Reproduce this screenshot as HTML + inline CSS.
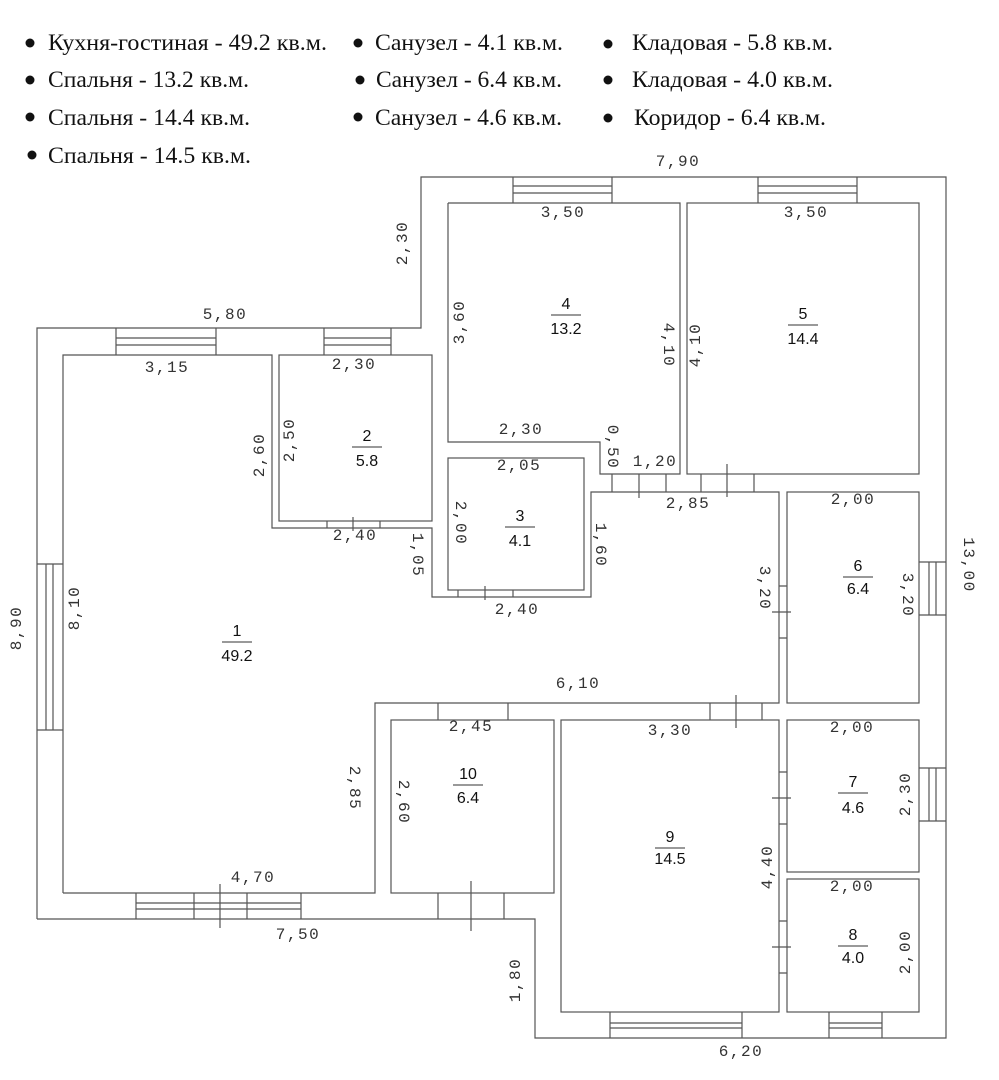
<!DOCTYPE html>
<html><head><meta charset="utf-8"><style>
html,body{margin:0;padding:0;background:#fff;}
svg{display:block}
.w{stroke:#555;stroke-width:1.2;fill:none}
.d{font-family:"Liberation Mono",monospace;font-size:16px;letter-spacing:1.5px;fill:#333;text-anchor:middle;dominant-baseline:central}
.r{font-family:"Liberation Sans",sans-serif;font-size:16px;fill:#111;text-anchor:middle}
.l{font-family:"Liberation Serif","Noto Serif CJK SC",serif;font-size:23px;fill:#111}
</style></head><body>
<svg width="999" height="1080" viewBox="0 0 999 1080" xmlns="http://www.w3.org/2000/svg">
<g fill="#111">
<circle cx="30" cy="43" r="4.5"/><circle cx="30" cy="80" r="4.5"/><circle cx="30" cy="117" r="4.5"/><circle cx="32" cy="155" r="4.5"/>
<circle cx="358" cy="43" r="4.5"/><circle cx="360" cy="80" r="4.5"/><circle cx="358" cy="117" r="4.5"/>
<circle cx="608" cy="44" r="4.5"/><circle cx="608" cy="80" r="4.5"/><circle cx="608" cy="118" r="4.5"/>
</g>
<text class="l" x="48" y="50" textLength="279" lengthAdjust="spacingAndGlyphs">Кухня-гостиная - 49.2 кв.м.</text>
<text class="l" x="48" y="87" textLength="201" lengthAdjust="spacingAndGlyphs">Спальня - 13.2 кв.м.</text>
<text class="l" x="48" y="125" textLength="202" lengthAdjust="spacingAndGlyphs">Спальня - 14.4 кв.м.</text>
<text class="l" x="48" y="163" textLength="203" lengthAdjust="spacingAndGlyphs">Спальня - 14.5 кв.м.</text>
<text class="l" x="375" y="50" textLength="188" lengthAdjust="spacingAndGlyphs">Санузел - 4.1 кв.м.</text>
<text class="l" x="376" y="87" textLength="186" lengthAdjust="spacingAndGlyphs">Санузел - 6.4 кв.м.</text>
<text class="l" x="375" y="125" textLength="187" lengthAdjust="spacingAndGlyphs">Санузел - 4.6 кв.м.</text>
<text class="l" x="632" y="50" textLength="201" lengthAdjust="spacingAndGlyphs">Кладовая - 5.8 кв.м.</text>
<text class="l" x="632" y="87" textLength="201" lengthAdjust="spacingAndGlyphs">Кладовая - 4.0 кв.м.</text>
<text class="l" x="634" y="125" textLength="192" lengthAdjust="spacingAndGlyphs">Коридор - 6.4 кв.м.</text>

<g class="w">
<polyline points="37,919 37,328 421,328 421,177 946,177 946,1038 535,1038 535,919 37,919"/>
<polyline points="63,893 63,355 272,355 272,528 432,528 432,597 591,597 591,492 779,492 779,703 375,703 375,893 63,893"/>
<rect x="279" y="355" width="153" height="166"/>
<rect x="448" y="458" width="136" height="132"/>
<polyline points="448,203 680,203 680,474 600,474 600,442 448,442 448,203"/>
<rect x="687" y="203" width="232" height="271"/>
<rect x="787" y="492" width="132" height="211"/>
<rect x="787" y="720" width="132" height="152"/>
<rect x="787" y="879" width="132" height="133"/>
<rect x="561" y="720" width="218" height="292"/>
<rect x="391" y="720" width="163" height="173"/>
<path d="M116,328V355M216,328V355M116,338H216M116,345H216"/>
<path d="M324,328V355M391,328V355M324,338H391M324,345H391"/>
<path d="M513,177V203M612,177V203M513,186H612M513,193H612"/>
<path d="M758,177V203M857,177V203M758,186H857M758,193H857"/>
<path d="M37,564H63M37,730H63M46,564V730M53,564V730"/>
<path d="M919,562H946M919,615H946M929,562V615M936,562V615"/>
<path d="M919,768H946M919,821H946M929,768V821M936,768V821"/>
<path d="M136,893V919M301,893V919M194,893V919M247,893V919M136,903H301M136,909H301M220,884V928"/>
<path d="M610,1012V1038M742,1012V1038M610,1023H742M610,1028H742"/>
<path d="M829,1012V1038M882,1012V1038M829,1023H882M829,1028H882"/>
<path d="M327,521V528M380,521V528M353,517V531"/>
<path d="M438,893V919M504,893V919M471,881V931"/>
<path d="M612,474V492M666,474V492M639,474V498"/>
<path d="M701,474V492M754,474V492M727,464V497"/>
<path d="M458,590V597M513,590V597M485,586V600"/>
<path d="M438,703V720M508,703V720"/>
<path d="M710,703V720M762,703V720M736,695V728"/>
<path d="M779,586H787M779,638H787M772,612H791"/>
<path d="M779,772H787M779,824H787M772,798H791"/>
<path d="M779,921H787M779,973H787M772,947H791"/>
</g>
<g stroke="#333" stroke-width="1">
<path d="M222,642H252M352,447H382M505,527H535M551,315H581M788,325H818M843,577H873M838,793H868M838,946H868M655,848H685M453,785H483"/>
</g>
<g class="r">
<text x="237" y="636">1</text><text x="237" y="661">49.2</text>
<text x="367" y="441">2</text><text x="367" y="466">5.8</text>
<text x="520" y="521">3</text><text x="520" y="546">4.1</text>
<text x="566" y="309">4</text><text x="566" y="334">13.2</text>
<text x="803" y="319">5</text><text x="803" y="344">14.4</text>
<text x="858" y="571">6</text><text x="858" y="594">6.4</text>
<text x="853" y="787">7</text><text x="853" y="813">4.6</text>
<text x="853" y="940">8</text><text x="853" y="963">4.0</text>
<text x="670" y="842">9</text><text x="670" y="864">14.5</text>
<text x="468" y="779">10</text><text x="468" y="803">6.4</text>
</g>
<g class="d">
<text x="678" y="162">7,90</text>
<text x="563" y="213">3,50</text><text x="806" y="213">3,50</text>
<text x="225" y="315">5,80</text><text x="167" y="368">3,15</text><text x="354" y="365">2,30</text>
<text x="355" y="536">2,40</text><text x="521" y="430">2,30</text><text x="655" y="462">1,20</text>
<text x="519" y="466">2,05</text><text x="517" y="610">2,40</text><text x="688" y="504">2,85</text>
<text x="853" y="500">2,00</text><text x="578" y="684">6,10</text><text x="471" y="727">2,45</text>
<text x="670" y="731">3,30</text><text x="852" y="728">2,00</text><text x="852" y="887">2,00</text>
<text x="253" y="878">4,70</text><text x="298" y="935">7,50</text><text x="741" y="1052">6,20</text>
<text transform="translate(403,243) rotate(-90)">2,30</text>
<text transform="translate(260,455) rotate(-90)">2,60</text>
<text transform="translate(290,440) rotate(-90)">2,50</text>
<text transform="translate(417,555) rotate(90)">1,05</text>
<text transform="translate(460,322) rotate(-90)">3,60</text>
<text transform="translate(668,345) rotate(90)">4,10</text>
<text transform="translate(696,345) rotate(-90)">4,10</text>
<text transform="translate(612,447) rotate(90)">0,50</text>
<text transform="translate(460,523) rotate(90)">2,00</text>
<text transform="translate(600,545) rotate(90)">1,60</text>
<text transform="translate(968,565) rotate(90)">13,00</text>
<text transform="translate(764,588) rotate(90)">3,20</text>
<text transform="translate(907,595) rotate(90)">3,20</text>
<text transform="translate(17,628) rotate(-90)">8,90</text>
<text transform="translate(75,608) rotate(-90)">8,10</text>
<text transform="translate(354,788) rotate(90)">2,85</text>
<text transform="translate(403,802) rotate(90)">2,60</text>
<text transform="translate(906,794) rotate(-90)">2,30</text>
<text transform="translate(768,867) rotate(-90)">4,40</text>
<text transform="translate(906,952) rotate(-90)">2,00</text>
<text transform="translate(516,980) rotate(-90)">1,80</text>
</g>
</svg>
</body></html>
